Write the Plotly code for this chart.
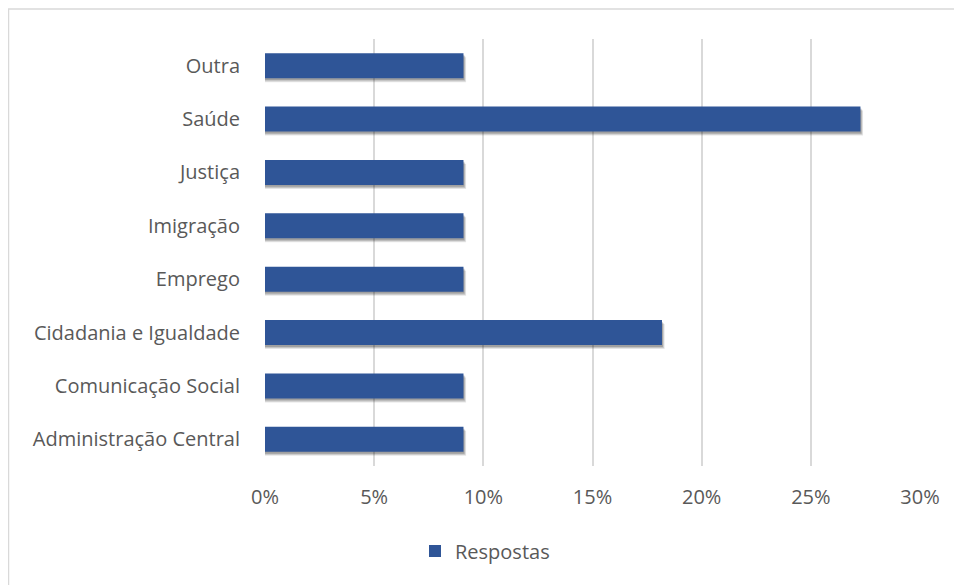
import plotly.graph_objects as go

categories = ["Administração Central", "Comunicação Social", "Cidadania e Igualdade",
              "Emprego", "Imigração", "Justiça", "Saúde", "Outra"]
values = [1/11, 1/11, 2/11, 1/11, 1/11, 1/11, 3/11, 1/11]
tick_vals = [0, 0.05, 0.10, 0.15, 0.20, 0.25, 0.30]
tick_text = ["0%", "5%", "10%", "15%", "20%", "25%", "30%"]

FONT = "Open Sans"
W, H = 954, 577
L, R, T, B = 257, 42, 31, 119
pw, ph = W - L - R, H - T - B
BW = 0.47
COLOR = "#2F5597"

fig = go.Figure()
# soft drop shadow (Excel-like), drawn from the same values
for dx, dy, a in [(0.0012, 0.075, 0.10), (0.0008, 0.055, 0.14), (0.0004, 0.035, 0.18)]:
    fig.add_trace(go.Bar(
        y=categories, x=[v + dx for v in values], orientation="h",
        marker=dict(color=f"rgba(0,0,0,{a})", line=dict(width=0)),
        width=BW, offset=-BW / 2 - dy, showlegend=False, hoverinfo="skip",
    ))
fig.add_trace(go.Bar(
    y=categories, x=values, orientation="h", name="Respostas",
    marker=dict(color=COLOR, line=dict(width=0)), width=BW, offset=-BW / 2,
    showlegend=False,
))
# legend entry with a larger square swatch
fig.add_trace(go.Scatter(
    x=[None], y=[None], mode="markers", name="Respostas",
    marker=dict(symbol="square", size=12, color=COLOR), showlegend=True,
))
fig.update_layout(
    width=W, height=H,
    margin=dict(l=L, r=R, t=T, b=B),
    paper_bgcolor="white", plot_bgcolor="white",
    barmode="overlay",
    font=dict(family=FONT, size=20, color="#595959"),
    showlegend=True,
    legend=dict(orientation="h", xref="container", x=0.5, xanchor="center",
                yref="container", y=1 - 543 / H, yanchor="middle",
                font=dict(size=20, color="#595959"), itemwidth=30),
    xaxis=dict(range=[0, 0.30], tickvals=tick_vals, ticktext=tick_text,
               showgrid=True, gridcolor="#D9D9D9", gridwidth=1.5,
               zeroline=False, showline=False, ticks="", ticklabelstandoff=17),
    yaxis=dict(categoryorder="array", categoryarray=categories,
               range=[-0.5, 7.5],
               showgrid=False, zeroline=False, showline=False, ticks="",
               ticklabelstandoff=24),
    shapes=[dict(type="rect", xref="paper", yref="paper",
                 x0=(0.5 - L) / pw, x1=(W + 10 - L) / pw,
                 y0=(H - B - (H + 5)) / ph, y1=(H - B - 1) / ph,
                 line=dict(color="#D9D9D9", width=1.5),
                 fillcolor="rgba(0,0,0,0)", layer="below")],
)
fig.write_html("out.html")
